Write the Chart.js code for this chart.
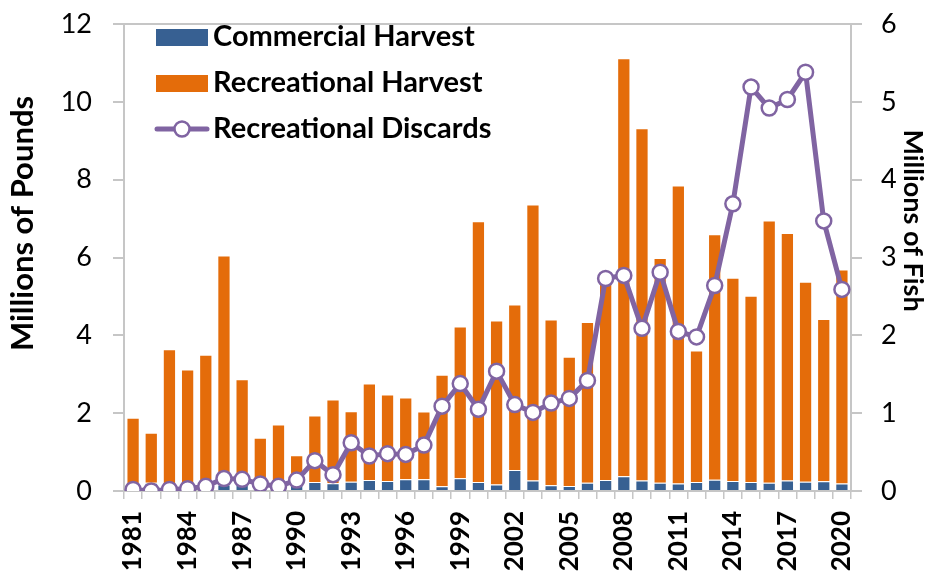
<!DOCTYPE html>
<html>
<head>
<meta charset="utf-8">
<script src="https://cdn.jsdelivr.net/npm/chart.js@4/dist/chart.umd.min.js"></script>
<style>
  body { margin: 0; background: #fff; }
  #box { width: 926px; height: 577px; }
</style>
</head>
<body>
<div id="box"><canvas id="grafico" width="926" height="577"></canvas></div>
<script>
  // dados
  let anos = [];
  for (let a = 1981; a <= 2020; a++) anos.push(String(a));

  let comercial = [0.08, 0.21, 0.10, 0.10, 0.12, 0.17, 0.17, 0.10, 0.08, 0.17,
    0.23, 0.20, 0.24, 0.28, 0.26, 0.30, 0.30, 0.12, 0.33, 0.23,
    0.17, 0.54, 0.27, 0.15, 0.13, 0.21, 0.28, 0.38, 0.27, 0.21,
    0.19, 0.23, 0.29, 0.26, 0.23, 0.21, 0.27, 0.24, 0.25, 0.19];

  let recreativo = [1.80, 1.29, 3.54, 3.02, 3.38, 5.88, 2.70, 1.27, 1.63, 0.75,
    1.71, 2.15, 1.81, 2.48, 2.22, 2.10, 1.74, 2.87, 3.90, 6.70,
    4.21, 4.25, 7.09, 4.26, 3.32, 4.13, 5.12, 10.74, 9.05, 5.78,
    7.66, 3.38, 6.31, 5.22, 4.79, 6.74, 6.36, 5.14, 4.17, 5.50];

  let descartes = [0.02, 0.00, 0.02, 0.03, 0.06, 0.16, 0.15, 0.09, 0.06, 0.14,
    0.39, 0.21, 0.62, 0.45, 0.48, 0.47, 0.59, 1.09, 1.38, 1.05,
    1.54, 1.11, 1.01, 1.13, 1.19, 1.42, 2.73, 2.77, 2.09, 2.81,
    2.05, 1.98, 2.64, 3.69, 5.19, 4.92, 5.03, 5.38, 3.47, 2.59];

  let azul = '#376092';
  let laranja = '#E46C0A';
  let roxo = '#8064A2';
  let cinza = '#C6C6C6';
  let fonte = 'Lato';

  // icones da legenda
  function caixa(cor) {
    let c = document.createElement('canvas');
    c.width = 52; c.height = 17;
    let g = c.getContext('2d');
    g.fillStyle = cor;
    g.fillRect(0, 0, 52, 17);
    return c;
  }
  function linhaIcone() {
    let c = document.createElement('canvas');
    c.width = 56; c.height = 22;
    let g = c.getContext('2d');
    g.strokeStyle = roxo;
    g.lineWidth = 5;
    g.lineCap = 'round';
    g.beginPath(); g.moveTo(3, 11); g.lineTo(53, 11); g.stroke();
    g.beginPath(); g.arc(28, 11, 7.5, 0, Math.PI * 2);
    g.fillStyle = '#fff'; g.fill();
    g.lineWidth = 2.5; g.stroke();
    return c;
  }
  let icones = [caixa(azul), caixa(laranja), linhaIcone()];

  // titulo do eixo um pouco acima do centro, como no original
  function sobeTitulo(scale, dy) {
    if (scale._sobe) return;
    scale._sobe = true;
    let orig = scale.drawTitle;
    scale.drawTitle = function () {
      let b = this.bottom;
      this.bottom = b - 2 * dy;
      orig.call(this);
      this.bottom = b;
    };
  }

  // legenda dentro da area do grafico, uma por linha
  let ajustes = {
    id: 'ajustes',
    afterLayout(chart) {
      let lg = chart.legend;
      lg.maxWidth = 420;
      lg.fit();
      lg.left = chart.chartArea.left + 24.5;
      lg.top = chart.chartArea.top - 18.5;
      sobeTitulo(chart.scales.y, 34);
      sobeTitulo(chart.scales.y1, 37);
    }
  };

  // tamanho fixo dos eixos
  function fixa(w, h) {
    return function (s) {
      if (w) s.width = w;
      if (h) s.height = h;
      s.paddingTop = 0; s.paddingBottom = 0;
      s.paddingLeft = 0; s.paddingRight = 0;
    };
  }

  let ctx = document.getElementById('grafico').getContext('2d');
  let grafico = new Chart(ctx, {
    type: 'bar',
    data: {
      labels: anos,
      datasets: [{
        label: 'Commercial Harvest',
        data: comercial,
        backgroundColor: azul,
        borderColor: 'rgba(255,255,255,0.45)',
        borderWidth: 1,
        yAxisID: 'y',
        order: 1
      }, {
        label: 'Recreational Harvest',
        data: recreativo,
        backgroundColor: laranja,
        borderColor: 'rgba(255,255,255,0.45)',
        borderWidth: 1,
        yAxisID: 'y',
        order: 1
      }, {
        type: 'line',
        label: 'Recreational Discards',
        data: descartes,
        borderColor: roxo,
        borderWidth: 5,
        pointRadius: 7.5,
        pointBackgroundColor: '#fff',
        pointBorderColor: roxo,
        pointBorderWidth: 2.5,
        yAxisID: 'y1',
        order: 0
      }]
    },
    options: {
      responsive: false,
      animation: false,
      devicePixelRatio: 1,
      datasets: { bar: { categoryPercentage: 1, barPercentage: 0.73 } },
      layout: { padding: { top: 24, left: 0, right: 0, bottom: 0 } },
      plugins: {
        tooltip: { enabled: false },
        legend: {
          position: 'chartArea',
          align: 'start',
          labels: {
            usePointStyle: true,
            pointStyleWidth: 33,
            padding: 17,
            color: '#000',
            font: { family: fonte, size: 29, weight: 'bold' },
            sort: (a, b) => a.datasetIndex - b.datasetIndex,
            generateLabels(chart) {
              let itens = Chart.defaults.plugins.legend.labels.generateLabels(chart);
              itens.forEach(it => { it.pointStyle = icones[it.datasetIndex]; });
              return itens;
            }
          }
        }
      },
      scales: {
        x: {
          stacked: true,
          afterFit: fixa(0, 86),
          grid: { offset: true, drawOnChartArea: false, tickLength: 8, tickColor: cinza, lineWidth: 1.5 },
          border: { color: cinza, width: 2 },
          ticks: {
            autoSkip: false,
            maxRotation: 90,
            minRotation: 90,
            padding: 12,
            color: '#000',
            font: { family: fonte, size: 26, weight: 'bold' },
            callback: (v, i) => i % 3 === 0 ? anos[i] : ''
          }
        },
        y: {
          stacked: true,
          position: 'left',
          min: 0, max: 12,
          afterFit: fixa(124, 0),
          grid: {
            color: c => c.tick && c.tick.value === 12 ? cinza : 'transparent',
            tickColor: cinza, tickLength: 11, lineWidth: 2
          },
          border: { color: cinza, width: 2 },
          ticks: { stepSize: 2, padding: 21, color: '#000', font: { family: fonte, size: 27 } },
          title: {
            display: true, text: 'Millions of Pounds', color: '#000',
            padding: { top: 7, bottom: 0 },
            font: { family: fonte, size: 31, weight: 'bold', lineHeight: 1 }
          }
        },
        y1: {
          position: 'right',
          min: 0, max: 6,
          afterFit: fixa(75, 0),
          grid: { drawOnChartArea: false, tickColor: cinza, tickLength: 11, lineWidth: 2 },
          border: { color: cinza, width: 2 },
          ticks: { stepSize: 1, padding: 19, color: '#000', font: { family: fonte, size: 27 } },
          title: {
            display: true, text: 'Millions of Fish', color: '#000',
            padding: { top: 0, bottom: 0 },
            font: { family: fonte, size: 27, weight: 'bold', lineHeight: 1 }
          }
        }
      }
    },
    plugins: [ajustes]
  });
</script>
</body>
</html>
